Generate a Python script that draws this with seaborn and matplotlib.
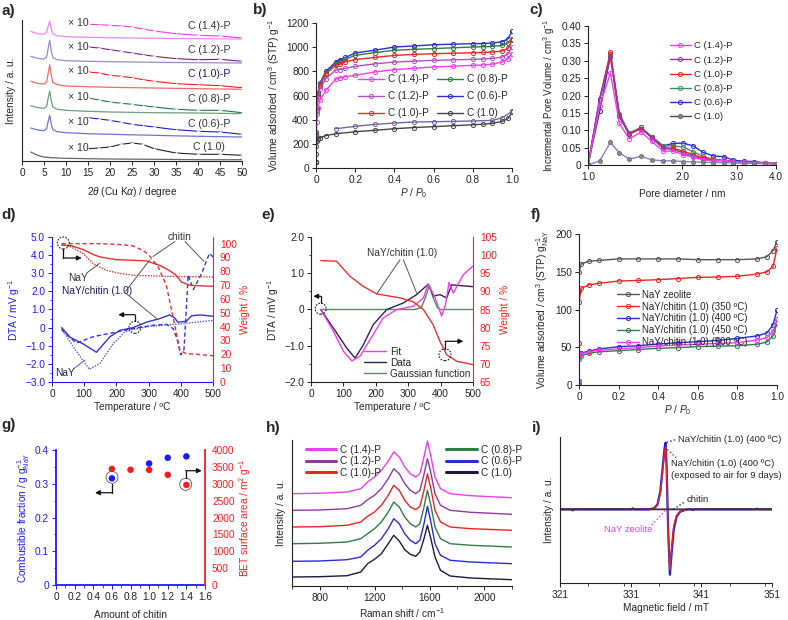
import numpy as np
import pandas as pd
import seaborn as sns
import matplotlib.pyplot as plt
import matplotlib.patches as mpatches
from matplotlib.ticker import MultipleLocator, FuncFormatter, NullLocator, NullFormatter
from matplotlib.lines import Line2D

sns.set_theme(style="ticks")
plt.rcParams['font.family'] = ['Liberation Sans', 'DejaVu Sans']
plt.rcParams.update({
    'font.size': 7.3, 'axes.labelsize': 7.3, 'xtick.labelsize': 7.3, 'ytick.labelsize': 7.3,
    'legend.fontsize': 7, 'axes.linewidth': 0.8,
    'xtick.major.size': 3, 'ytick.major.size': 3, 'xtick.minor.size': 1.8, 'ytick.minor.size': 1.8,
    'xtick.major.width': 0.7, 'ytick.major.width': 0.7, 'xtick.minor.width': 0.6, 'ytick.minor.width': 0.6,
    'xtick.major.pad': 2, 'ytick.major.pad': 2, 'axes.labelpad': 2,
    'mathtext.fontset': 'custom', 'mathtext.rm': 'Liberation Sans',
    'mathtext.it': 'Liberation Sans:italic', 'mathtext.bf': 'Liberation Sans:bold',
    'axes.edgecolor': '#222222', 'xtick.color': '#222222', 'ytick.color': '#222222',
})

W, H = 788, 620

# ---------------- a) XRD ----------------
xrd_2theta = [2, 3, 4, 5, 5.6, 6.0, 6.3, 6.6, 7.0, 8, 10, 15, 20, 30, 40, 50]
xrd_c10 = [9.0, 6.7, 5.0, 4.0, 3.7, 3.7, 3.3, 3.3, 3.3, 3.0, 2.7, 2.3, 2.0, 1.7, 1.3, 1.3]
xrd_c06p = [33.0, 31.7, 30.7, 30.3, 32.3, 40.7, 45.7, 38.0, 31.3, 29.3, 28.3, 27.3, 26.7, 25.7, 24.7, 24.0]
xrd_c08p = [55.3, 54.0, 53.0, 52.7, 54.7, 64.0, 70.0, 61.3, 54.0, 51.7, 50.7, 49.7, 49.0, 48.3, 48.0, 47.3]
xrd_c10p = [79.7, 78.3, 77.3, 77.0, 79.0, 89.0, 96.3, 86.7, 78.7, 76.3, 75.0, 74.3, 73.7, 73.0, 72.3, 71.7]
xrd_c12p = [104.7, 103.3, 102.3, 102.0, 104.0, 114.0, 120.7, 111.3, 103.3, 101.3, 100.3, 99.7, 99.3, 98.7, 98.3, 98.0]
xrd_c14p = [129.7, 128.0, 127.0, 126.7, 128.7, 135.7, 139.7, 133.3, 127.3, 125.3, 124.3, 123.7, 123.3, 122.7, 122.3, 122.0]
x10_2theta = [15, 17.5, 20, 22.5, 25, 27.5, 30, 35, 40, 45, 50]
x10_c10 = [12.3, 13.0, 14.0, 16.7, 18.0, 16.7, 12.3, 8.0, 6.7, 6.7, 5.7]
x10_c06p = [43.3, 42.0, 40.7, 38.7, 36.7, 35.3, 34.0, 31.3, 29.7, 29.0, 26.7]
x10_c08p = [63.0, 61.0, 59.0, 57.7, 56.7, 55.3, 54.0, 51.7, 50.7, 50.7, 48.3]
x10_c10p = [89.0, 88.0, 85.7, 84.7, 83.3, 81.3, 79.7, 77.3, 76.3, 75.3, 73.3]
x10_c12p = [114.0, 113.0, 111.3, 109.7, 108.0, 106.3, 104.7, 102.3, 101.3, 101.7, 99.7]
x10_c14p = [136.7, 136.3, 135.7, 135.0, 134.0, 132.0, 130.0, 127.3, 125.7, 125.0, 123.0]
xrd_names = ["C (1.0)", "C (0.6)-P", "C (0.8)-P", "C (1.0)-P", "C (1.2)-P", "C (1.4)-P"]

# ---------------- b) N2 isotherms ----------------
b_p = [0, 0.001, 0.003, 0.01, 0.02, 0.05, 0.1, 0.12, 0.15, 0.2, 0.3, 0.4, 0.5, 0.6, 0.7, 0.8, 0.85, 0.9, 0.95, 0.98, 1.0]
b_c06p = [50, 300, 500, 620, 700, 800, 877, 895, 915, 952, 975, 1001, 1010, 1020, 1025, 1029, 1030, 1034, 1045, 1070, 1131]
b_c08p = [50, 280, 480, 610, 690, 790, 863, 880, 900, 932, 955, 974, 982, 988, 995, 1001, 1003, 1006, 1015, 1035, 1070]
b_c10p = [50, 270, 470, 600, 680, 780, 850, 862, 878, 897, 915, 932, 940, 946, 950, 954, 956, 960, 968, 990, 1056]
b_c12p = [50, 260, 450, 580, 650, 740, 808, 815, 825, 841, 862, 877, 884, 891, 895, 899, 902, 907, 918, 945, 1001]
b_c14p = [50, 230, 380, 500, 560, 643, 734, 745, 755, 767, 795, 814, 825, 836, 842, 850, 852, 860, 877, 905, 946]
b_c10_ads_p = [0, 0.0005, 0.001, 0.005, 0.01, 0.02, 0.05, 0.1, 0.2, 0.3, 0.4, 0.5, 0.6, 0.7, 0.8, 0.85, 0.9, 0.95, 0.98, 1.0]
b_c10_ads = [50, 120, 180, 225, 240, 250, 268, 283, 300, 312, 325, 335, 342, 350, 358, 362, 370, 385, 410, 460]
b_c10_des_p = [0.1, 0.2, 0.3, 0.4, 0.5, 0.6, 0.7, 0.8, 0.9, 0.95, 1.0]
b_c10_des = [325, 345, 361, 372, 381, 383, 386, 389, 394, 416, 469]

# ---------------- c) pore size distribution ----------------
c_d = [1.0, 1.09, 1.18, 1.26, 1.355, 1.48, 1.6, 1.74, 1.87, 2.02, 2.17, 2.34, 2.52, 2.72, 2.92, 3.15, 3.4, 3.7, 4.0]
c_c14p = [0, 0.17, 0.265, 0.12, 0.075, 0.095, 0.068, 0.04, 0.04, 0.03, 0.022, 0.015, 0.012, 0.013, 0.01, 0.008, 0.007, 0.005, 0.004]
c_c12p = [0, 0.19, 0.31, 0.14, 0.088, 0.105, 0.078, 0.048, 0.045, 0.035, 0.025, 0.018, 0.012, 0.013, 0.01, 0.008, 0.007, 0.005, 0.004]
c_c10p = [0, 0.19, 0.325, 0.145, 0.09, 0.108, 0.08, 0.05, 0.048, 0.04, 0.03, 0.02, 0.013, 0.014, 0.01, 0.008, 0.007, 0.005, 0.004]
c_c08p = [0, 0.19, 0.32, 0.148, 0.092, 0.108, 0.082, 0.055, 0.055, 0.052, 0.038, 0.025, 0.016, 0.014, 0.01, 0.008, 0.007, 0.005, 0.004]
c_c06p = [0, 0.155, 0.315, 0.14, 0.09, 0.105, 0.08, 0.055, 0.062, 0.063, 0.055, 0.036, 0.026, 0.024, 0.014, 0.011, 0.01, 0.006, 0.004]
c_c10 = [0, 0.012, 0.065, 0.035, 0.017, 0.025, 0.015, 0.012, 0.012, 0.010, 0.009, 0.008, 0.007, 0.007, 0.006, 0.005, 0.005, 0.004, 0.003]

# ---------------- d) DTA / TG ----------------
d_t_cmp = [30, 56, 97, 138, 180, 211, 252, 293, 335, 365, 380, 391, 417, 433, 459, 500]
d_dta_cmp = [0, -0.53, -0.9, -1.36, -0.5, -0.15, 0, 0.3, 0.5, 0.7, 0.55, 0.3, 0.35, 0.65, 0.7, 0.63]
d_t_nay = [30, 66, 116, 149, 190, 226, 252, 304, 407, 500]
d_dta_nay = [-0.05, -1.06, -2.3, -1.97, -0.88, -0.24, -0.1, 0.07, 0.22, 0.4]
d_t_chi = [30, 40, 76, 128, 200, 252, 314, 355, 376, 388, 400, 410, 423, 439, 465, 489, 500]
d_dta_chi = [-0.1, -0.3, -0.85, -0.5, -0.24, -0.05, 0.13, 0.18, -0.05, -0.6, -1.5, -1.2, 2.9, 2.1, 3.0, 4.1, 3.9]
d_tw_cmp = [30, 60, 97, 130, 149, 200, 250, 293, 335, 365, 386, 402, 428, 460, 500]
d_wt_cmp = [99, 98.5, 95.7, 92, 90.4, 88.4, 88, 87.5, 84.3, 80.5, 77, 72.3, 70, 69.5, 69.2]
d_tw_nay = [30, 60, 97, 128, 169, 210, 252, 355, 500]
d_wt_nay = [99.3, 97.5, 92.8, 85.5, 80.7, 78.5, 77.1, 76.4, 75.9]
d_tw_chi = [30, 150, 200, 250, 283, 300, 330, 355, 376, 397, 417, 450, 500]
d_wt_chi = [100, 100, 99.5, 98.5, 95, 92, 83, 70, 47, 23, 20.5, 20, 19]

# ---------------- e) DTA fit ----------------
e_t_data = [30, 69, 110, 136, 160, 192, 234, 285, 326, 362, 378, 398, 419, 434, 500]
e_dta_data = [0, -0.51, -1.06, -1.34, -1.0, -0.42, 0, 0.18, 0.41, 0.70, 0.37, 0.41, 0.32, 0.68, 0.63]
e_t_fit = [30, 69, 100, 126, 151, 192, 223, 265, 316, 347, 362, 383, 403, 415, 426, 439, 470, 500]
e_dta_fit = [0, -0.6, -1.15, -1.42, -1.29, -0.69, -0.23, 0, 0.09, 0.32, 0.70, 0.32, -0.18, 0.13, 0.75, 0.45, 0.96, 1.2]
e_t_gauss = [30, 320, 340, 352, 365, 378, 390, 400, 500]
e_dta_gauss = [0, 0, 0.05, 0.3, 0.65, 0.3, 0.05, 0, 0]
e_t_wt = [30, 79, 120, 161, 203, 275, 316, 347, 377, 398, 419, 450, 500]
e_wt = [98.5, 98.3, 94.2, 91.4, 89.3, 88.2, 87.1, 85, 80.8, 76.2, 72.5, 70.7, 69.8]

# ---------------- f) NaY isotherms ----------------
f_p = [0, 0.001, 0.01, 0.05, 0.1, 0.2, 0.3, 0.4, 0.5, 0.6, 0.7, 0.8, 0.9, 0.95, 0.98, 1.0]
f_nay = [125, 150, 160, 164, 165, 167, 167, 167, 167, 166, 166, 166, 167, 170, 178, 190]
f_350 = [55, 110, 128, 132.5, 134.7, 137.7, 138.5, 139.5, 141, 142.6, 143, 144, 147, 150, 157, 181]
f_400 = [5, 38, 42, 45, 47.7, 50.8, 52, 54.3, 56, 57.4, 59, 61.8, 65, 69, 80, 99]
f_450 = [3, 35, 39, 42, 44, 45.5, 47, 48.6, 49.5, 50.8, 51.5, 52, 54, 57, 65, 81.7]
f_500 = [4, 37, 41, 44, 46, 48, 49.5, 51.7, 52.8, 54, 55, 56, 59.6, 63, 71, 87]
f_names = ["NaY zeolite", "NaY/chitin (1.0) (350 ºC)", "NaY/chitin (1.0) (400 ºC)",
           "NaY/chitin (1.0) (450 ºC)", "NaY/chitin (1.0) (500 ºC)"]

# ---------------- g) combustible fraction / BET ----------------
g_amount_comb = [0.6, 1.0, 1.2, 1.4]
g_comb = [0.316, 0.36, 0.377, 0.381]
g_amount_bet = [0.6, 0.8, 1.0, 1.2, 1.4]
g_bet = [3440, 3415, 3410, 3265, 2965]

# ---------------- h) Raman ----------------
h_shift = [600, 800, 1000, 1100, 1150, 1200, 1250, 1300, 1340, 1380, 1420, 1460, 1500, 1530, 1560, 1585, 1610, 1640, 1680, 1750, 1900, 2200]
h_c10 = [9.0, 9.3, 10.3, 14.0, 22.3, 26.7, 32.3, 42.3, 50.7, 45.0, 36.3, 31.7, 29.7, 34.0, 47.3, 60.7, 47.3, 29.0, 15.7, 10.0, 8.0, 6.3]
h_c06p = [24.7, 25.0, 26.3, 29.0, 35.7, 40.7, 47.3, 57.3, 67.3, 62.3, 52.3, 45.7, 42.3, 45.7, 62.3, 79.7, 64.0, 42.3, 30.7, 25.7, 24.0, 22.3]
h_c08p = [42.3, 42.7, 44.0, 47.3, 52.3, 57.3, 64.0, 74.0, 84.0, 79.0, 69.0, 62.3, 59.0, 62.3, 79.0, 95.7, 80.7, 59.0, 47.3, 42.3, 40.7, 39.0]
h_c10p = [59.0, 59.3, 60.7, 64.0, 69.7, 74.0, 80.7, 90.7, 100.7, 95.7, 85.7, 79.0, 76.3, 79.7, 95.7, 112.3, 97.3, 75.7, 64.0, 59.0, 57.3, 55.7]
h_c12p = [75.7, 76.0, 77.3, 80.7, 86.3, 90.7, 97.3, 107.3, 117.3, 112.3, 102.3, 95.7, 92.3, 95.7, 111.7, 127.3, 113.0, 92.3, 80.7, 75.7, 73.7, 71.7]
h_c14p = [92.3, 92.7, 94.0, 97.3, 104.0, 109.0, 115.7, 125.0, 134.0, 129.0, 119.0, 112.3, 109.0, 112.3, 129.0, 145.0, 129.7, 109.0, 97.3, 92.3, 90.3, 88.3]

# ---------------- i) EPR ----------------
i_field = [321, 333.5, 334.3, 334.8, 335.2, 335.5, 335.8, 335.95, 336.1, 336.3, 336.55, 336.8, 337.1, 337.5, 338.0, 339.0, 351]
i_400 = [0, 0, 3, 15, 55, 120, 185, 201, 120, -60, -197, -130, -60, -22, -7, 0, 0]
i_air = [0, 0, 2, 12, 48, 110, 175, 188, 110, -60, -182, -115, -50, -18, -6, 0, 0]
i_field_chi = [321, 322.6, 322.8, 323.0, 331.1, 331.3, 331.5, 339.6, 339.8, 340.0, 348.7, 348.9, 349.1, 351]
i_chi = [0, 0, -4, 0, 0, 4, 0, 0, -3, 0, 0, 3, 0, 0]
i_field_nay = [321, 351]
i_nay = [0, 0]

MAG, PUR, RED, GRN, BLU, BLK = "#f03cf0", "#8e3aa0", "#ec2424", "#2e7d46", "#2c2cd0", "#3a3a4a"
AX_BLUE, AX_RED = "#1a1aff", "#ff1a1a"

fig = plt.figure(figsize=(W / 100, H / 100), dpi=100)


def add_ax(l, t, r, b):
    return fig.add_axes([l / W, 1 - b / H, (r - l) / W, (b - t) / H])


def fr(ax, px, py):
    bb = ax.get_position()
    return ((px / W - bb.x0) / bb.width, ((1 - py / H) - bb.y0) / bb.height)


def circ(ax, px, py, r, ls=(0, (1.5, 1.2)), lw=0.8, ec="#222222"):
    bb = ax.get_position()
    ax.add_patch(mpatches.Ellipse(fr(ax, px, py), 2 * r / (bb.width * W), 2 * r / (bb.height * H),
                                  transform=ax.transAxes, fill=False, ls=ls, lw=lw, ec=ec,
                                  clip_on=False, zorder=6))


def elbow(ax, pts, color="#111111"):
    p = [fr(ax, *q) for q in pts]
    ax.plot([q[0] for q in p[:-1]], [q[1] for q in p[:-1]], color=color, lw=0.9,
            transform=ax.transAxes, clip_on=False, zorder=6)
    ax.annotate("", xy=p[-1], xytext=p[-2], xycoords="axes fraction", textcoords="axes fraction",
                arrowprops=dict(arrowstyle="-|>", color=color, lw=0.9, mutation_scale=7,
                                shrinkA=0, shrinkB=0), zorder=6)


def seg(ax, p1, p2, color="#555555", ls="-", lw=0.7):
    a, b = fr(ax, *p1), fr(ax, *p2)
    ax.plot([a[0], b[0]], [a[1], b[1]], color=color, ls=ls, lw=lw, transform=ax.transAxes,
            clip_on=False, zorder=6)


def ptext(ax, px, py, s, **kw):
    ax.text(*fr(ax, px, py), s, transform=ax.transAxes, **kw)


def fmt(dec):
    def f(v, _):
        if abs(v) < 1e-9:
            return "0"
        return f"{v:.{dec}f}".replace("-", "\u2212")
    return FuncFormatter(f)


def line(ax, x, y, color, **kw):
    sns.lineplot(x=x, y=y, ax=ax, color=color, sort=False, estimator=None, legend=False, **kw)


def panel(s, px, py):
    fig.text(px / W, 1 - py / H, s, fontsize=11, fontweight="bold", va="top", ha="left")


# ================= a =================
ax = add_ax(22, 20, 242, 161)
a_series = [
    (xrd_c10, x10_c10, "#222222", "#666666"),
    (xrd_c06p, x10_c06p, "#1c1cc8", "#7070e0"),
    (xrd_c08p, x10_c08p, "#1e7a3a", "#6aa07a"),
    (xrd_c10p, x10_c10p, "#ee1c1c", "#f06a6a"),
    (xrd_c12p, x10_c12p, "#7a2080", "#a088c8"),
    (xrd_c14p, x10_c14p, "#e83ee8", "#f088f0"),
]
a_label_y = [14.5, 37.3, 61.7, 86.7, 110.7, 134.7]
a_x10_y = [13.0, 39.0, 64.0, 90.0, 114.0, 138.0]
for (main, mag, c_dark, c_light), name, ly, xy in zip(a_series, xrd_names, a_label_y, a_x10_y):
    line(ax, xrd_2theta, main, c_light, lw=0.9)
    line(ax, x10_2theta, mag, c_dark, lw=0.8, marker="+", markersize=2.5, markeredgewidth=0.5)
    ax.text(42.5, ly, name, ha="center", va="center", fontsize=7.6,
            color="#1a1a66" if name == "C (1.0)-P" else "#333333")
    ax.text(12.7, xy, "× 10", ha="center", va="center", fontsize=7.6, color="#333333")
ax.set_xlim(0, 50)
ax.set_ylim(0, 141)
ax.set_yticks([])
ax.xaxis.set_major_locator(MultipleLocator(5))
ax.set_xlabel(r"2$\theta$ (Cu K$\alpha$) / degree", labelpad=5)
ax.set_ylabel("Intensity / a. u.", labelpad=4)
sns.despine(ax=ax)

# ================= b =================
ax = add_ax(316, 23, 512, 168)
mk = dict(marker="o", markersize=3, markerfacecolor="none", markeredgewidth=0.7, lw=1.0)
b_series = [(b_c14p, MAG, "C (1.4)-P"), (b_c12p, "#b050c0", "C (1.2)-P"), (b_c10p, RED, "C (1.0)-P"),
            (b_c08p, GRN, "C (0.8)-P"), (b_c06p, BLU, "C (0.6)-P")]
for ys, c, n in reversed(b_series):
    line(ax, b_p, ys, c, label=n, markeredgecolor=c, **mk)
line(ax, b_c10_ads_p, b_c10_ads, "#444444", label="C (1.0)", markeredgecolor="#444444", **mk)
line(ax, b_c10_des_p, b_c10_des, "#6a6aa0", markeredgecolor="#6a6aa0", **mk)
hd = {h.get_label(): h for h in ax.get_lines()}
order = ["C (1.4)-P", "C (1.2)-P", "C (1.0)-P", "C (0.8)-P", "C (0.6)-P", "C (1.0)"]
ax.legend([hd[k] for k in order], order, ncol=2, frameon=False, loc="upper left",
          bbox_to_anchor=(0.17, 0.71), handlelength=2.6, columnspacing=0.8, labelspacing=0.7,
          handletextpad=0.4, fontsize=7.2)
ax.set_xlim(0, 1.0)
ax.set_ylim(0, 1200)
ax.xaxis.set_major_locator(MultipleLocator(0.2))
ax.xaxis.set_major_formatter(fmt(1))
ax.yaxis.set_major_locator(MultipleLocator(200))
ax.set_xlabel(r"$P$ / $P_0$", labelpad=1)
ax.set_ylabel(r"Volume adsorbed / cm$^3$ (STP) g$^{-1}$", labelpad=3)
sns.despine(ax=ax)

# ================= c =================
ax = add_ax(588, 26, 776, 165)
c_series = [(c_c14p, MAG, "C (1.4)-P"), (c_c12p, PUR, "C (1.2)-P"), (c_c10p, RED, "C (1.0)-P"),
            (c_c08p, "#3a9060", "C (0.8)-P"), (c_c06p, BLU, "C (0.6)-P")]
for ys, c, n in reversed(c_series):
    line(ax, c_d, ys, c, label=n, markeredgecolor=c, **mk)
line(ax, c_d, c_c10, "#8080c8", label="C (1.0)", marker="o", markersize=3, markerfacecolor="#888888",
     markeredgecolor="#666666", markeredgewidth=0.5, lw=1.0)
hd = {h.get_label(): h for h in ax.get_lines()}
order = ["C (1.4)-P", "C (1.2)-P", "C (1.0)-P", "C (0.8)-P", "C (0.6)-P", "C (1.0)"]
leg_h = [Line2D([], [], color=hd[k].get_color() if k != "C (1.0)" else "#444455", marker="o", ms=3,
                mfc=hd[k].get_markerfacecolor(), mec=hd[k].get_markeredgecolor(), mew=0.7, lw=1.0)
         for k in order]
ax.legend(leg_h, order, frameon=False, loc="upper left", bbox_to_anchor=(0.39, 0.95),
          handlelength=2.2, labelspacing=0.55, handletextpad=0.4, fontsize=6.8)
ax.set_xscale("log")
ax.set_xlim(1.0, 4.0)
ax.set_ylim(0, 0.40)
ax.set_xticks([1, 2, 3, 4])
ax.set_xticklabels(["1.0", "2.0", "3.0", "4.0"])
ax.xaxis.set_minor_locator(NullLocator())
ax.xaxis.set_minor_formatter(NullFormatter())
ax.yaxis.set_major_locator(MultipleLocator(0.05))
ax.yaxis.set_major_formatter(fmt(2))
ax.set_xlabel("Pore diameter / nm", labelpad=5)
ax.set_ylabel(r"Incremental Pore Volume / cm$^3$ g$^{-1}$", labelpad=3, fontsize=7)
sns.despine(ax=ax)

# ================= d =================
ax = add_ax(52, 237, 213, 382)
ax2 = ax.twinx()
line(ax, d_t_cmp, d_dta_cmp, "#3333cc", lw=1.0)
line(ax, d_t_nay, d_dta_nay, "#5555dd", lw=1.0, ls=(0, (1, 1)))
line(ax, d_t_chi, d_dta_chi, "#3333dd", lw=1.0, ls=(0, (3, 2)))
line(ax2, d_tw_cmp, d_wt_cmp, "#e83030", lw=1.0)
line(ax2, d_tw_nay, d_wt_nay, "#e83030", lw=1.0, ls=(0, (1, 1)))
line(ax2, d_tw_chi, d_wt_chi, "#e83030", lw=1.0, ls=(0, (3, 2)))
ax.set_xlim(0, 500)
ax.set_ylim(-3.0, 5.0)
ax2.set_ylim(0, 104.8)
ax.xaxis.set_major_locator(MultipleLocator(100))
ax.yaxis.set_major_locator(MultipleLocator(1.0))
ax.yaxis.set_minor_locator(MultipleLocator(0.5))
ax.yaxis.set_major_formatter(fmt(1))
ax2.yaxis.set_major_locator(MultipleLocator(10))
ax2.yaxis.set_minor_locator(MultipleLocator(5))
ax.set_xlabel("Temperature / ºC", labelpad=2)
ax.set_ylabel(r"DTA / mV g$^{-1}$", color=AX_BLUE, labelpad=2)
ax2.set_ylabel("Weight / %", color=AX_RED, labelpad=2)
sns.despine(ax=ax)
sns.despine(ax=ax2, left=True, bottom=True, right=False)
ax.spines["left"].set_color(AX_BLUE)
ax.spines["bottom"].set_color(AX_BLUE)
ax.tick_params(axis="y", which="both", colors=AX_BLUE)
ax2.spines["right"].set_color(AX_RED)
ax2.tick_params(axis="y", which="both", colors=AX_RED)
ptext(ax2, 180, 237.5, "chitin", ha="center", va="center", color="#333333")
seg(ax2, (175, 241.5), (153, 256.5))
seg(ax2, (185, 241.5), (204, 261.5))
ptext(ax2, 96.7, 291.3, "NaY/chitin (1.0)", ha="center", va="center", color="#1a1a66")
seg(ax2, (125.5, 291.3), (150, 259.7))
seg(ax2, (125.5, 293), (156.7, 318.7))
ptext(ax2, 78.3, 278, "NaY", ha="center", va="center", color="#333333")
seg(ax2, (86.7, 273), (100, 263))
ptext(ax2, 65, 373.3, "NaY", ha="center", va="center", color="#1a1a66")
seg(ax2, (74, 368.5), (85, 360), color="#5555dd")
circ(ax2, 63.3, 243, 6)
elbow(ax2, [(63.3, 249), (63.3, 258), (81.7, 258)])
circ(ax2, 135, 327.3, 6)
elbow(ax2, [(135, 321.3), (135, 314.7), (118.3, 314.7)])

# ================= e =================
ax = add_ax(311, 237, 473, 382)
ax2 = ax.twinx()
line(ax, e_t_gauss, e_dta_gauss, "#5a8a5a", lw=1.0, label="Gaussian function")
line(ax, e_t_data, e_dta_data, "#332244", lw=1.0, label="Data")
line(ax, e_t_fit, e_dta_fit, MAG, lw=1.0, label="Fit")
line(ax2, e_t_wt, e_wt, "#e83030", lw=1.0)
hd = {h.get_label(): h for h in ax.get_lines()}
ax.legend([hd[k] for k in ["Fit", "Data", "Gaussian function"]], ["Fit", "Data", "Gaussian function"],
          frameon=False, loc="lower left", bbox_to_anchor=(0.27, -0.04), handlelength=2.2,
          labelspacing=0.1, handletextpad=0.4, fontsize=7.2)
ax.set_xlim(0, 500)
ax.set_ylim(-2.0, 2.0)
ax2.set_ylim(65, 105)
ax.xaxis.set_major_locator(MultipleLocator(100))
ax.yaxis.set_major_locator(MultipleLocator(1.0))
ax.yaxis.set_minor_locator(MultipleLocator(0.5))
ax.yaxis.set_major_formatter(fmt(1))
ax2.yaxis.set_major_locator(MultipleLocator(5))
ax2.yaxis.set_minor_locator(MultipleLocator(2.5))
ax.set_xlabel("Temperature / ºC", labelpad=2)
ax.set_ylabel(r"DTA / mV g$^{-1}$", labelpad=2)
ax2.set_ylabel("Weight / %", color=AX_RED, labelpad=2)
sns.despine(ax=ax)
sns.despine(ax=ax2, left=True, bottom=True, right=False)
ax2.spines["right"].set_color(AX_RED)
ax2.tick_params(axis="y", which="both", colors=AX_RED)
ptext(ax2, 401.7, 253, "NaY/chitin (1.0)", ha="center", va="center", color="#333333")
seg(ax2, (400, 259.7), (376.7, 294))
seg(ax2, (403.3, 259.7), (416.7, 293))
circ(ax2, 320.7, 308.7, 5.5)
elbow(ax2, [(320.7, 303), (320.7, 296.3), (313.3, 296.3)])
circ(ax2, 445, 354.7, 6)
elbow(ax2, [(445, 348.7), (445, 341.3), (463.3, 341.3)])

# ================= f =================
ax = add_ax(579, 234, 777, 385)
f_series = [f_nay, f_350, f_400, f_450, f_500]
f_cols = ["#555555", RED, BLU, GRN, MAG]
for ys, c, n in zip(f_series, f_cols, f_names):
    line(ax, f_p, ys, c, label=n, markeredgecolor=c, **mk)
hd = {h.get_label(): h for h in ax.get_lines()}
ax.legend([hd[k] for k in f_names], f_names, frameon=False, loc="upper left",
          bbox_to_anchor=(0.15, 0.69), handlelength=2.2, labelspacing=0.2, handletextpad=0.3,
          fontsize=7)
ax.set_xlim(0, 1.0)
ax.set_ylim(0, 200)
ax.xaxis.set_major_locator(MultipleLocator(0.2))
ax.xaxis.set_major_formatter(fmt(1))
ax.yaxis.set_major_locator(MultipleLocator(50))
ax.set_xlabel(r"$P$ / $P_0$", labelpad=1)
ax.set_ylabel(r"Volume adsorbed / cm$^3$ (STP) g$_{\rm NaY}^{-1}$", labelpad=3)
sns.despine(ax=ax)

# ================= g =================
ax = add_ax(56, 450, 205, 585)
ax2 = ax.twinx()
sns.scatterplot(x=g_amount_comb, y=g_comb, ax=ax, color="#1a1aff", s=22, edgecolor="none", legend=False)
sns.scatterplot(x=g_amount_bet, y=g_bet, ax=ax2, color="#ff1a1a", s=22, edgecolor="none", legend=False)
ax.set_xlim(0, 1.6)
ax.set_ylim(0, 0.4)
ax2.set_ylim(0, 4000)
ax.xaxis.set_major_locator(MultipleLocator(0.2))
ax.xaxis.set_major_formatter(fmt(1))
ax.yaxis.set_major_locator(MultipleLocator(0.1))
ax.yaxis.set_minor_locator(MultipleLocator(0.05))
ax.yaxis.set_major_formatter(fmt(1))
ax2.yaxis.set_major_locator(MultipleLocator(500))
ax2.yaxis.set_minor_locator(MultipleLocator(250))
ax.xaxis.set_minor_locator(MultipleLocator(0.1))
ax.set_xlabel("Amount of chitin", labelpad=6)
ax.set_ylabel(r"Combustible fraction / g g$_{\rm NaY}^{-1}$", color=AX_BLUE, labelpad=2)
ax2.set_ylabel(r"BET surface area / m$^2$ g$^{-1}$", color=AX_RED, labelpad=2)
sns.despine(ax=ax)
sns.despine(ax=ax2, left=True, bottom=True, right=False)
ax.spines["left"].set_color(AX_BLUE)
ax.spines["bottom"].set_color(AX_BLUE)
ax.spines["left"].set_linewidth(1.3)
ax.spines["bottom"].set_linewidth(1.3)
ax.tick_params(axis="y", which="both", colors=AX_BLUE)
ax.tick_params(axis="x", which="both", color=AX_BLUE)
ax2.spines["right"].set_color(AX_RED)
ax2.spines["right"].set_linewidth(1.3)
ax2.tick_params(axis="y", which="both", colors=AX_RED)
circ(ax2, 112, 477.3, 6, ls="-", lw=0.6, ec="#555555")
elbow(ax2, [(112, 484), (112, 492.7), (95, 492.7)])
circ(ax2, 185.7, 484.3, 6, ls="-", lw=0.6, ec="#555555")
elbow(ax2, [(185.7, 478.3), (185.7, 470.7), (201.7, 470.7)])

# ================= h =================
ax = add_ax(292, 440, 512, 586)
h_series = [(h_c10, "#1a1a40", "C (1.0)"), (h_c06p, BLU, "C (0.6)-P"), (h_c08p, GRN, "C (0.8)-P"),
            (h_c10p, RED, "C (1.0)-P"), (h_c12p, PUR, "C (1.2)-P"), (h_c14p, MAG, "C (1.4)-P")]
for ys, c, n in h_series:
    line(ax, h_shift, ys, c, lw=1.0, label=n)
hd = {h.get_label(): h for h in ax.get_lines()}
left_names = ["C (1.4)-P", "C (1.2)-P", "C (1.0)-P"]
right_names = ["C (0.8)-P", "C (0.6)-P", "C (1.0)"]
mkh = lambda k: Line2D([], [], color=hd[k].get_color(), lw=2.2)
leg1 = ax.legend([mkh(k) for k in left_names], left_names, frameon=False, loc="upper left",
                 bbox_to_anchor=(0.02, 1.03), handlelength=3.0, labelspacing=0.15, handletextpad=0.4,
                 fontsize=7.3)
ax.add_artist(leg1)
ax.legend([mkh(k) for k in right_names], right_names, frameon=False, loc="upper left",
          bbox_to_anchor=(0.66, 1.03), handlelength=3.0, labelspacing=0.15, handletextpad=0.4,
          fontsize=7.3)
ax.set_xlim(600, 2200)
ax.set_ylim(0, 146)
ax.set_yticks([])
ax.xaxis.set_major_locator(MultipleLocator(400))
ax.xaxis.set_minor_locator(MultipleLocator(200))
ax.set_xlabel(r"Raman shift / cm$^{-1}$", labelpad=2)
ax.set_ylabel("Intensity / a. u.", labelpad=4)
sns.despine(ax=ax)

# ================= i =================
ax = add_ax(560, 437, 772, 583)
line(ax, i_field_nay, i_nay, MAG, lw=1.0)
line(ax, i_field, i_400, "#2020d8", lw=1.6)
line(ax, i_field, i_air, "#ee2020", lw=1.0)
line(ax, i_field_chi, i_chi, "#333333", lw=1.2)
ax.set_xlim(321, 351)
ax.set_ylim(-222, 218)
ax.set_yticks([])
ax.set_xticks([321, 331, 341, 351])
ax.xaxis.set_minor_locator(MultipleLocator(5))
ax.set_xlabel("Magnetic field / mT", labelpad=2)
ax.set_ylabel("Intensity / a. u.", labelpad=4)
sns.despine(ax=ax)
ann = dict(ha="left", va="center", color="#222222", fontsize=6.8)
ptext(ax, 678.3, 439.3, "NaY/chitin (1.0) (400 ºC)", **ann)
seg(ax, (666.7, 442.3), (676.7, 439.3), color="#2020d8", ls=":", lw=1.0)
ptext(ax, 670.7, 464, "NaY/chitin (1.0) (400 ºC)", **ann)
ptext(ax, 670.7, 476, "(exposed to air for 9 days)", **ann)
seg(ax, (667.3, 449.3), (676.7, 458.3), color="#ee2020", ls=":", lw=1.0)
ptext(ax, 686.7, 499.3, "chitin", **ann)
seg(ax, (673.3, 509.3), (685, 501.7), color="#222222", ls=":", lw=1.0)
ptext(ax, 628.3, 529.3, "NaY zeolite", ha="center", va="center", color=MAG, fontsize=6.8)
seg(ax, (651.7, 525), (666, 510), color=MAG, ls=":", lw=1.0)

for s, px, py in [("a)", 1, 4), ("b)", 253, 3), ("c)", 529, 3), ("d)", 1, 208), ("e)", 261, 208),
                  ("f)", 531, 208), ("g)", 1, 418), ("h)", 266, 421), ("i)", 532, 421)]:
    panel(s, px, py)

fig.savefig("out.png", dpi=100)
